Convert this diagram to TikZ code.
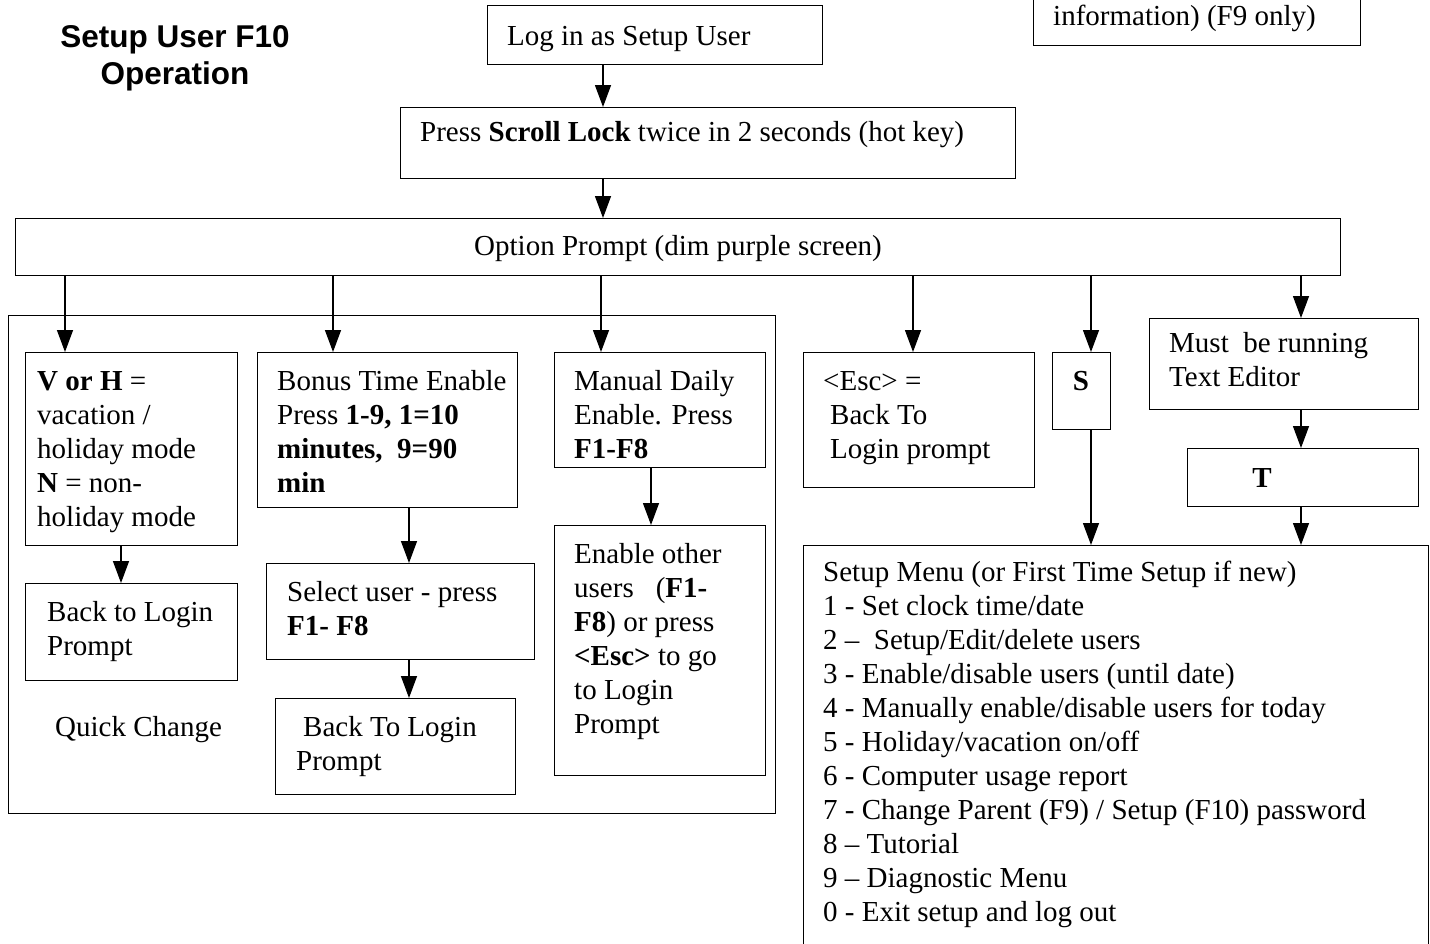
\documentclass[tikz,border=0pt]{standalone}
\usepackage{fontspec}
\setmainfont{Liberation Serif}
\newfontfamily\titlefont{Liberation Sans}
\usetikzlibrary{arrows.meta}
\newcommand{\mlines}[1]{\begin{tabular}[t]{@{}l@{}}#1\end{tabular}}
\newcommand{\mclines}[1]{\begin{tabular}[t]{@{}c@{}}#1\end{tabular}}
\begin{document}
\begin{tikzpicture}[x=1pt,y=-1pt,
  box/.style={draw, line width=1.4pt, inner sep=0pt, anchor=north west},
  txt/.style={inner sep=0pt, anchor=base west, font=\fontsize{29}{34}\selectfont},
  arr/.style={line width=1.4pt, -{Triangle[length=22pt,width=16pt]}}]
\useasboundingbox (0,0) rectangle (1430,943);
% boxes
\node[box, minimum width=327pt, minimum height=75pt] (info) at (1033,-30) {};
\node[box, minimum width=335pt, minimum height=59pt] (login) at (487,5) {};
\node[box, minimum width=615pt, minimum height=71pt] (press) at (400,107) {};
\node[box, minimum width=1325pt, minimum height=57pt] (opt) at (15,218) {};
\node[box, minimum width=767pt, minimum height=498pt] (grp) at (8,315) {};
\node[box, minimum width=212pt, minimum height=193pt] (vbox) at (25,352) {};
\node[box, minimum width=212pt, minimum height=97pt] (vback) at (25,583) {};
\node[box, minimum width=260pt, minimum height=155pt] (bonus) at (257,352) {};
\node[box, minimum width=268pt, minimum height=96pt] (sel) at (266,563) {};
\node[box, minimum width=240pt, minimum height=96pt] (bback) at (275,698) {};
\node[box, minimum width=211pt, minimum height=115pt] (man) at (554,352) {};
\node[box, minimum width=211pt, minimum height=250pt] (enab) at (554,525) {};
\node[box, minimum width=231pt, minimum height=135pt] (esc) at (803,352) {};
\node[box, minimum width=58pt, minimum height=77pt] (sbox) at (1052,352) {};
\node[box, minimum width=269pt, minimum height=91pt] (must) at (1149,318) {};
\node[box, minimum width=231pt, minimum height=58pt] (tbox) at (1187,448) {};
\node[box, minimum width=625pt, minimum height=420pt] (menu) at (803,545) {};
% texts
\node[txt, font=\titlefont\bfseries\fontsize{31.5}{37}\selectfont, anchor=base] (title) at (175,47) {\mclines{Setup User F10\\Operation}};
\node[txt] (tinfo) at (1053,25) {information) (F9 only)};
\node[txt] (tlogin) at (507,45) {Log in as Setup User};
\node[txt] (tpress) at (420,141) {Press \textbf{Scroll Lock} twice in 2 seconds (hot key)};
\node[txt, anchor=base] (topt) at (678,255) {Option Prompt (dim purple screen)};
\node[txt] (tv) at (37,390) {\mlines{\textbf{V or H} =\\vacation /\\holiday mode\\\textbf{N} = non-\\holiday mode}};
\node[txt] (tvback) at (47,621) {\mlines{Back to Login\\Prompt}};
\node[txt] (tquick) at (55,736) {Quick Change};
\node[txt] (tbonus) at (277,390) {\mlines{Bonus Time Enable\\Press \textbf{1-9, 1=10}\\\textbf{minutes,\ \ 9=90}\\\textbf{min}}};
\node[txt] (tsel) at (287,601) {\mlines{Select user - press\\\textbf{F1- F8}}};
\node[txt] (tbback) at (296,736) {\mlines{\hspace{7pt}Back To Login\\Prompt}};
\node[txt] (tman) at (574,390) {\mlines{Manual Daily\\Enable. Press\\\textbf{F1-F8}}};
\node[txt] (tenab) at (574,563) {\mlines{Enable other\\users\hspace{22pt}(\textbf{F1-}\\\textbf{F8}) or press\\\textbf{<Esc>} to go\\to Login\\Prompt}};
\node[txt] (tesc) at (823,390) {\mlines{<Esc> =\\\hspace{7pt}Back To\\\hspace{7pt}Login prompt}};
\node[txt, anchor=base] (ts) at (1081,390) {\textbf{S}};
\node[txt] (tmust) at (1169,352) {\mlines{Must\ \ be running\\Text Editor}};
\node[txt, anchor=base] (tt) at (1262,487) {\textbf{T}};
\node[txt] (tmenu) at (823,581) {\mlines{Setup Menu (or First Time Setup if new)\\
1 - Set clock time/date\\
2 --\ \ Setup/Edit/delete users\\
3 - Enable/disable users (until date)\\
4 - Manually enable/disable users for today\\
5 - Holiday/vacation on/off\\
6 - Computer usage report\\
7 - Change Parent (F9) / Setup (F10) password\\
8 -- Tutorial\\
9 -- Diagnostic Menu\\
0 - Exit setup and log out}};
% arrow x positions
\coordinate (xa) at (603,0);
\coordinate (xv) at (65,0);
\coordinate (xb) at (333,0);
\coordinate (xm) at (601,0);
\coordinate (xe) at (913,0);
\coordinate (xs) at (1091,0);
\coordinate (xt) at (1301,0);
\coordinate (xvb) at (121,0);
\coordinate (xsel) at (409,0);
\coordinate (xen) at (651,0);
% connectors
\draw[arr] (login.south -| xa) -- (press.north -| xa);
\draw[arr] (press.south -| xa) -- (opt.north -| xa);
\draw[arr] (opt.south -| xv) -- (vbox.north -| xv);
\draw[arr] (opt.south -| xb) -- (bonus.north -| xb);
\draw[arr] (opt.south -| xm) -- (man.north -| xm);
\draw[arr] (opt.south -| xe) -- (esc.north -| xe);
\draw[arr] (opt.south -| xs) -- (sbox.north -| xs);
\draw[arr] (opt.south -| xt) -- (must.north -| xt);
\draw[arr] (vbox.south -| xvb) -- (vback.north -| xvb);
\draw[arr] (bonus.south -| xsel) -- (sel.north -| xsel);
\draw[arr] (sel.south -| xsel) -- (bback.north -| xsel);
\draw[arr] (man.south -| xen) -- (enab.north -| xen);
\draw[arr] (sbox.south -| xs) -- (menu.north -| xs);
\draw[arr] (must.south -| xt) -- (tbox.north -| xt);
\draw[arr] (tbox.south -| xt) -- (menu.north -| xt);
\end{tikzpicture}
\end{document}
